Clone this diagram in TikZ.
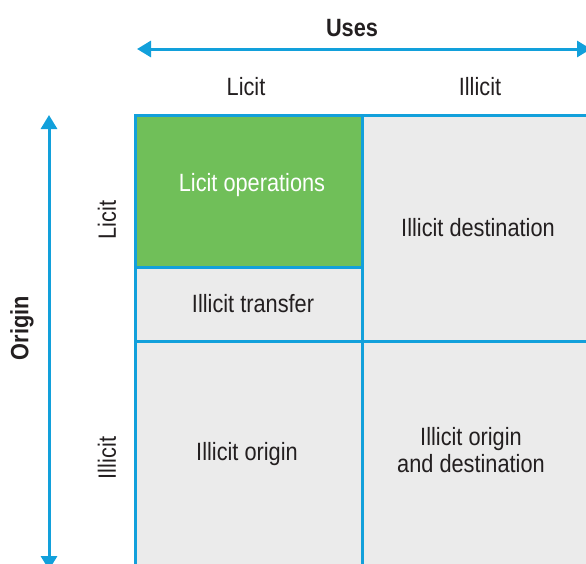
\documentclass[tikz,border=0pt]{standalone}
\usepackage{fontspec}
\setmainfont{Liberation Sans}[FakeStretch=0.87]
\usetikzlibrary{calc,arrows.meta}

\definecolor{gridblue}{HTML}{12A0DB}
\definecolor{licitgreen}{HTML}{70BF59}
\definecolor{cellgrey}{HTML}{EBEBEB}
\definecolor{inkdark}{HTML}{231F20}

\tikzset{
  cell/.style={draw=gridblue,line width=3pt},
  axis/.style={draw=gridblue,line width=3pt,{Triangle[length=14pt,width=16pt]}-{Triangle[length=14pt,width=16pt]}},
  lbl/.style={text=inkdark,inner sep=0pt,align=center},
}

\begin{document}
\begin{tikzpicture}[x=1pt,y=-1pt,font=\fontsize{25}{27.5}\selectfont]
  \useasboundingbox (0,0) rectangle (586,563);
  \clip (0,0) rectangle (586,563);

  %% Cells of the matrix
  \coordinate (TL) at (135,115);
  \coordinate (MT) at (362,115);
  \coordinate (ML) at (135,267);
  \coordinate (MM) at (362,267);
  \coordinate (HL) at (135,341);
  \coordinate (HM) at (362,341);
  \coordinate (HR) at (600,341);
  \coordinate (BM) at (362,580);
  \coordinate (BR) at (600,580);
  \path[cell,fill=cellgrey]    (MT) rectangle (HR);
  \path[cell,fill=cellgrey]    (HL) rectangle (BM);
  \path[cell,fill=cellgrey]    (HM) rectangle (BR);
  \path[cell,fill=cellgrey]    (ML) rectangle (HM);
  \path[cell,fill=licitgreen]  (TL) rectangle (MM);

  %% Cell labels
  \node[lbl,text=white] (licop)  at (252,185) {Licit operations};
  \node[lbl] (iltrans) at (253,304) {Illicit transfer};
  \node[lbl] (ildest)  at (478,228) {Illicit destination};
  \node[lbl] (ilorig)  at (247,454) {Illicit origin};
  \node[lbl] (ilboth)  at (471,450) {Illicit origin\\and destination};

  %% Uses axis
  \coordinate (UA) at (137,49);
  \coordinate (UB) at (591,49);
  \draw[axis] (UA) -- (UB);
  \node[lbl,font=\fontsize{25}{28}\selectfont\bfseries] (uses) at (352,28) {Uses};
  \node[lbl] (useslicit)   at (246,87) {Licit};
  \node[lbl] (usesillicit) at (480,87) {Illicit};

  %% Origin axis
  \coordinate (OA) at (49,115);
  \coordinate (OB) at (49,570);
  \draw[axis] (OA) -- (OB);
  \node[lbl,rotate=90,font=\fontsize{25}{28}\selectfont\bfseries] (origin) at (22,328) {Origin};
  \node[lbl,rotate=90] (origlicit)   at (107,220) {Licit};
  \node[lbl,rotate=90] (origillicit) at (107,458) {Illicit};
\end{tikzpicture}
\end{document}
